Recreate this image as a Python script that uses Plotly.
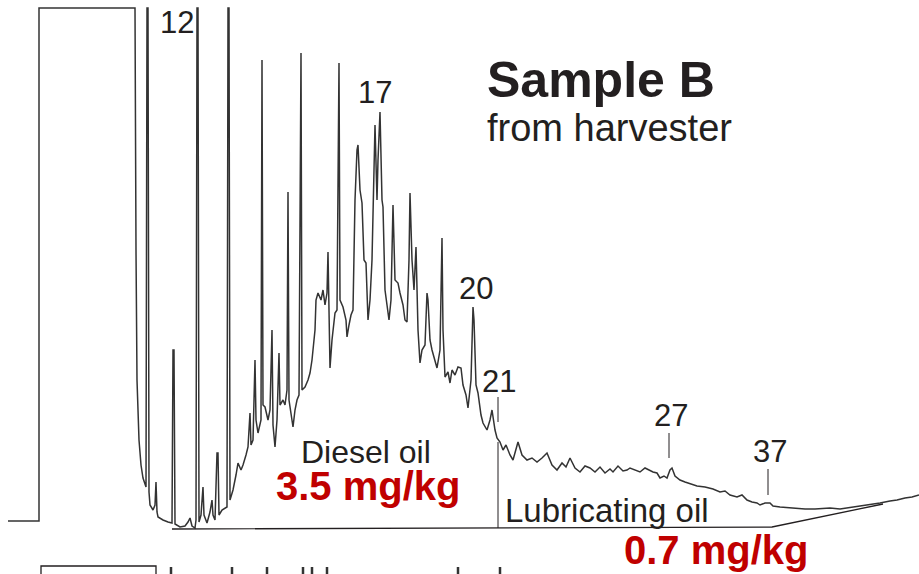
import plotly.graph_objects as go

# chromatogram: retention position (x) and detector row (y, top = 0)
step_x = [8, 39, 39, 135]
step_y = [521, 521, 8, 8]

rt = [135, 136, 137, 139, 141, 143, 146, 147, 148, 149, 150, 153, 155, 156, 157, 158, 163, 168, 172, 173,
      174, 175, 180, 185, 188, 190, 192, 195, 196, 197, 198, 199, 201, 203, 204, 207, 210, 212, 213, 215,
      217, 218, 219, 222, 225, 227, 228, 229, 230, 233, 236, 238, 241, 243, 246, 248, 250, 251, 253, 255,
      256, 258, 261, 262, 263, 265, 268, 270, 272, 273, 275, 277, 279, 280, 283, 285, 287, 288, 289, 291,
      293, 295, 297, 299, 301, 302, 305, 308, 310, 312, 314, 315, 316, 318, 321, 323, 325, 327, 328, 329,
      330, 332, 335, 337, 339, 340, 343, 346, 347, 349, 351, 353, 355, 357, 358, 360, 362, 364, 366, 368,
      370, 372, 375, 377, 378, 380, 382, 383, 385, 387, 389, 391, 393, 395, 398, 400, 403, 405, 407, 409,
      410, 412, 414, 416, 418, 420, 422, 425, 427, 428, 430, 432, 435, 437, 440, 442, 443, 445, 448, 450,
      452, 455, 458, 461, 463, 466, 468, 471, 473, 474, 476, 478, 481, 483, 487, 490, 492, 494, 495, 497,
      500, 503, 506, 510, 513, 518, 522, 527, 532, 537, 542, 547, 552, 557, 562, 566, 570, 575, 580, 585,
      590, 595, 600, 605, 610, 613, 618, 623, 627, 630, 635, 640, 645, 650, 653, 657, 660, 664, 667, 670,
      672, 675, 680, 685, 690, 697, 705, 713, 720, 725, 730, 737, 742, 747, 752, 757, 760, 765, 770, 773,
      780, 790, 797, 805, 815, 830, 840, 847, 860, 870, 880, 890, 897, 905, 912, 919]
resp = [8, 250, 380, 440, 465, 478, 487, 8, 8, 492, 505, 510, 505, 482, 512, 517, 520, 522, 523, 350,
        350, 524, 527, 526, 522, 518, 526, 528, 520, 8, 8, 522, 515, 487, 515, 523, 512, 500, 515, 520,
        453, 453, 515, 510, 508, 507, 8, 8, 500, 490, 475, 463, 470, 465, 455, 447, 413, 445, 440, 360,
        420, 433, 420, 60, 405, 407, 420, 410, 330, 425, 447, 420, 353, 405, 400, 405, 390, 192, 400, 415,
        427, 410, 400, 395, 53, 390, 387, 380, 373, 360, 335, 330, 300, 293, 300, 290, 305, 293, 252, 300,
        368, 340, 313, 310, 63, 300, 307, 320, 337, 325, 315, 310, 200, 150, 145, 190, 203, 260, 263, 320,
        300, 260, 125, 200, 160, 112, 200, 207, 290, 305, 320, 300, 205, 280, 283, 293, 305, 320, 322, 260,
        193, 260, 290, 247, 330, 363, 350, 345, 293, 300, 340, 350, 360, 368, 350, 238, 330, 377, 372, 383,
        370, 375, 367, 368, 385, 395, 408, 380, 307, 320, 385, 393, 415, 423, 430, 420, 410, 425, 430, 438,
        442, 450, 445, 455, 460, 442, 455, 460, 458, 462, 458, 453, 465, 470, 463, 467, 458, 468, 472, 466,
        468, 472, 467, 473, 469, 472, 466, 471, 470, 468, 470, 472, 468, 471, 472, 473, 478, 476, 478, 470,
        468, 476, 480, 482, 484, 486, 487, 489, 492, 491, 495, 497, 495, 500, 502, 503, 505, 503, 503, 506,
        507, 508, 508, 509, 509, 508, 509, 508, 506, 505, 503, 501, 500, 498, 497, 495]

# integration baseline and the diesel / lubricating oil divider
base_x = [172, 772, 883]
base_y = [529, 527, 504]
split_x = [498, 498]
split_y = [442, 528]

# carbon number markers
marker_x = [498, 669, 768]
marker_top = [397, 433, 469]
marker_bot = [422, 458, 495]

# top of the next panel, cut off at the bottom edge
next_box_x = [41, 41, 156, 156]
next_box_y = [574, 566, 566, 574]
next_ticks = [171, 232, 267, 303, 312, 327, 458, 500]

labels = ["12", "17", "20", "21", "27", "37"]
label_x = [177, 375, 476, 499, 671, 770]
label_y = [22, 92, 288, 381, 415, 451]

INK = "#231f20"
RED = "#c00000"
FONT = "Liberation Sans, Arial, sans-serif"


def segments(xs, y0, y1):
    px, py = [], []
    for x, a, b in zip(xs, y0, y1):
        px += [x, x, None]
        py += [a, b, None]
    return px, py


fig = go.Figure()
fig.add_trace(go.Scatter(x=step_x + rt, y=step_y + resp, mode="lines",
                         line=dict(color="#333333", width=1.5)))
fig.add_trace(go.Scatter(x=base_x, y=base_y, mode="lines", line=dict(color=INK, width=1.3)))
fig.add_trace(go.Scatter(x=split_x, y=split_y, mode="lines", line=dict(color=INK, width=1)))

mx, my = segments(marker_x, marker_top, marker_bot)
fig.add_trace(go.Scatter(x=mx, y=my, mode="lines", line=dict(color=INK, width=1)))

fig.add_trace(go.Scatter(x=next_box_x, y=next_box_y, mode="lines", line=dict(color=INK, width=1.3)))
tx, ty = segments(next_ticks, [567] * len(next_ticks), [574] * len(next_ticks))
fig.add_trace(go.Scatter(x=tx, y=ty, mode="lines", line=dict(color="#333", width=2.5)))

for t, x, y in zip(labels, label_x, label_y):
    fig.add_annotation(x=x, y=y, text=t, showarrow=False, xanchor="center", yanchor="middle",
                       font=dict(size=31, color=INK, family=FONT))

texts = [
    dict(x=485, y=80, text="<b>Sample B</b>", xanchor="left", size=50, color=INK),
    dict(x=485, y=128, text="from harvester", xanchor="left", size=38, color=INK),
    dict(x=366, y=452, text="Diesel oil", xanchor="center", size=32, color=INK),
    dict(x=368, y=486, text="<b>3.5 mg/kg</b>", xanchor="center", size=40, color=RED),
    dict(x=503, y=510, text="Lubricating oil", xanchor="left", size=33, color=INK),
    dict(x=716, y=550, text="<b>0.7 mg/kg</b>", xanchor="center", size=40, color=RED),
]
for t in texts:
    fig.add_annotation(x=t["x"], y=t["y"], text=t["text"], showarrow=False,
                       xanchor=t["xanchor"], yanchor="middle",
                       font=dict(size=t["size"], color=t["color"], family=FONT))

fig.update_layout(
    width=919, height=574, autosize=False,
    margin=dict(t=0, b=0, l=0, r=0),
    paper_bgcolor="white", plot_bgcolor="white",
    showlegend=False,
    xaxis=dict(range=[0, 919], visible=False, fixedrange=True),
    yaxis=dict(range=[574, 0], visible=False, fixedrange=True),
)

# the page body has a default 8px margin; drop it so the figure sits at the window corner
fig.write_html("out.html", config={"displayModeBar": False},
               post_script="document.body.style.margin='0';document.body.style.overflow='hidden';")
